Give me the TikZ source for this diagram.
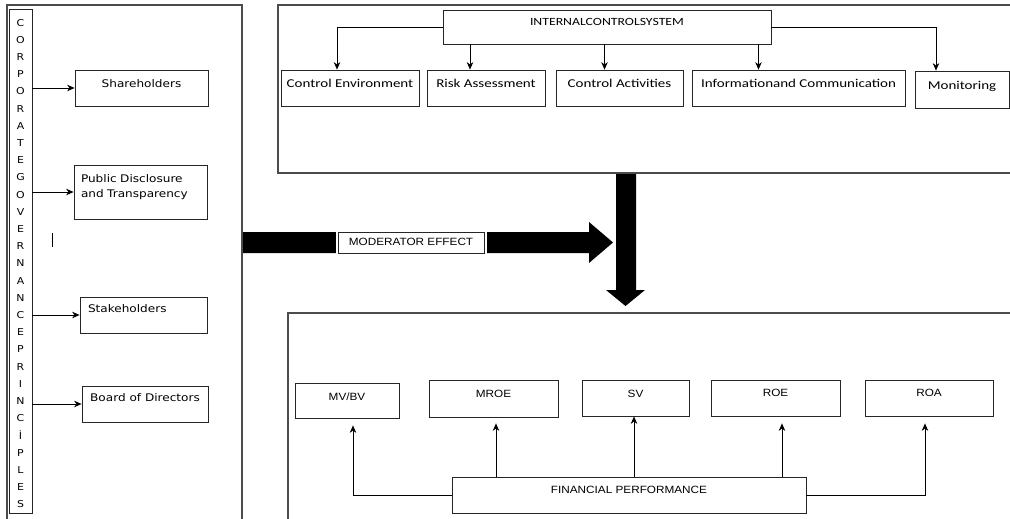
\documentclass[tikz,border=0pt]{standalone}
\usepackage{fontspec}
\usetikzlibrary{arrows,arrows.meta,positioning}
\newfontfamily\sidefont{DejaVu Sans}[FakeStretch=1.15]
\newfontfamily\topfont{Carlito}[FakeStretch=1.25]
\newfontfamily\botfont{Liberation Sans}[FakeStretch=1.12]
\tikzstyle{post}=[->,shorten >=0pt,>={Stealth[length=7.5pt,width=6.5pt]},line width=0.7pt]
\tikzstyle{box}=[rectangle,draw=black!85,line width=0.8pt,inner ysep=0pt]
\tikzstyle{outerframe}=[draw=black!70,line width=1.1pt]
\tikzstyle{letter}=[inner sep=0pt,font=\sidefont\fontsize{9.5}{10}\selectfont]
\tikzstyle{sidebox}=[box,font=\sidefont\fontsize{10.5}{15}\selectfont]
\tikzstyle{topbox}=[box,font=\topfont\fontsize{12}{14}\selectfont,text height=17.3pt,text depth=18.7pt]
\tikzstyle{botbox}=[box,font=\botfont\fontsize{10.5}{12}\selectfont]

\begin{document}
\begin{tikzpicture}[x=1pt,y=-1pt]
    \useasboundingbox (0,0) rectangle (1010,519);
    \clip (0,0) rectangle (1010,519);
    \fill[white] (0,0) rectangle (1010,519);

    % containers
    \draw[outerframe] (7,5) rectangle (242,540);
    \draw[outerframe] (278,5) rectangle (1030,173);
    \draw[outerframe] (288,313) rectangle (1030,540);

    % corporate governance principles
    \node[box,minimum width=23pt,minimum height=504pt] (cgp) at (20.5,261) {};
    \foreach \c [count=\i from 0] in {C,O,R,P,O,R,A,T,E,G,O,V,E,R,N,A,N,C,E,P,R,I,N,C,İ,P,L,E,S}
        \node[letter] (l\i) at (20.5,{22.7+17.2*\i}) {\c};

    \node[sidebox,minimum width=133pt,text height=18pt,text depth=18pt] (sh) at (141.5,88) {Shareholders};
    \node[sidebox,inner xsep=7pt,text width=119pt,align=left,text height=17.6pt,text depth=36.4pt] (pd) at (140.5,192) {Public Disclosure\\and Transparency};
    \node[sidebox,inner xsep=8pt,text width=111pt,align=left,text height=15.6pt,text depth=20.4pt] (stk) at (143.5,315) {Stakeholders};
    \node[sidebox,minimum width=126pt,text height=15.6pt,text depth=20.4pt] (bod) at (145,404) {Board of Directors};
    \draw[line width=0.6pt] (52,233) -- (52,247);

    \draw[post] (cgp.east |- sh.west) -- (sh.west);
    \draw[post] (cgp.east |- pd.west) -- (pd.west);
    \draw[post] (cgp.east |- stk.west) -- (stk.west);
    \draw[post] (cgp.east |- bod.west) -- (bod.west);

    % internal control system
    \node[box,minimum width=328pt,font=\topfont\fontsize{11}{13}\selectfont,text height=16pt,text depth=18pt] (ics) at (607,27) {INTERNALCONTROLSYSTEM};
    \node[topbox,minimum width=138pt] (ce) at (350,88) {Control Environment};
    \node[topbox,minimum width=118pt] (ra) at (486,88) {Risk Assessment};
    \node[topbox,minimum width=127pt] (ca) at (619.5,88) {Control Activities};
    \node[topbox,minimum width=213pt] (ic) at (798.5,88) {Informationand Communication};
    \node[topbox,minimum width=94pt,text height=18pt,text depth=19pt] (mon) at (962,89.5) {Monitoring};

    \draw[post] (ics.west) -| ([xshift=-13pt]ce.north);
    \draw[post] ([xshift=-16pt]ra.north |- ics.south) -- ([xshift=-16pt]ra.north);
    \draw[post] ([xshift=-15pt]ca.north |- ics.south) -- ([xshift=-15pt]ca.north);
    \draw[post] ([xshift=-40pt]ic.north |- ics.south) -- ([xshift=-40pt]ic.north);
    \draw[post] (ics.east) -| ([xshift=-26pt]mon.north);

    % moderator effect
    \fill (243,232) -- (589,232) -- (589,222) -- (613,242.5) -- (589,263) -- (589,253) -- (243,253) -- cycle;
    \fill (616,174) -- (636,174) -- (636,290) -- (645,290) -- (625.5,306) -- (606,290) -- (616,290) -- cycle;
    \node[botbox,fill=white,preaction={draw=white,line width=5pt},minimum width=146pt,
        font=\botfont\fontsize{10.5}{12}\selectfont,text height=13pt,text depth=8pt] (mod) at (411,242.5) {MODERATOR EFFECT};

    % financial performance
    \node[botbox,minimum width=104pt,text height=17.5pt,text depth=17.5pt] (mvbv) at (347,400.5) {MV/BV};
    \node[botbox,minimum width=129pt,text height=17pt,text depth=20pt] (mroe) at (493.5,398.5) {MROE};
    \node[botbox,minimum width=107pt,text height=17pt,text depth=19pt] (sv) at (635.5,398) {SV};
    \node[botbox,minimum width=129pt,text height=16.5pt,text depth=19.5pt] (roe) at (775.5,398) {ROE};
    \node[botbox,minimum width=128pt,text height=16.5pt,text depth=19.5pt] (roa) at (929,398) {ROA};
    \node[botbox,minimum width=354pt,text height=16pt,text depth=20pt] (fp) at (629,495) {FINANCIAL PERFORMANCE};

    \draw[post,shorten >=7pt] (fp.west) -| ([xshift=6pt]mvbv.south);
    \draw[post,shorten >=6pt] ([xshift=2.5pt]mroe.south |- fp.north) -- ([xshift=2.5pt]mroe.south);
    \draw[post] ([xshift=-1.5pt]sv.south |- fp.north) -- ([xshift=-1.5pt]sv.south);
    \draw[post,shorten >=7pt] ([xshift=6.5pt]roe.south |- fp.north) -- ([xshift=6.5pt]roe.south);
    \draw[post,shorten >=7pt] (fp.east) -| ([xshift=-4pt]roa.south);
\end{tikzpicture}
\end{document}
